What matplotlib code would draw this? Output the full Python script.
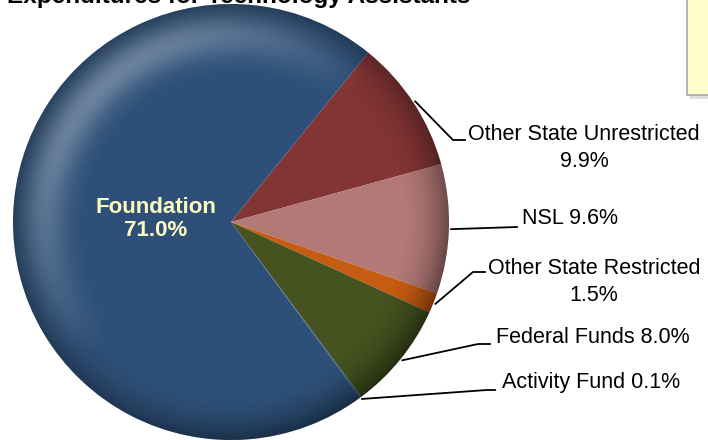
import matplotlib
matplotlib.use("Agg")
import matplotlib.pyplot as plt
import numpy as np
from matplotlib.patches import Circle, Rectangle

# data, clockwise from the top-right edge of the red slice
labels = ["Other State Unrestricted", "NSL", "Other State Restricted",
          "Federal Funds", "Activity Fund", "Foundation"]
pcts = [9.9, 9.6, 1.5, 8.0, 0.1, 71.0]
colors = ["#833434", "#B27976", "#C65B12", "#44531F", "#34557F", "#2E5078"]
title = "Expenditures for Technology Assistants"

plt.rcParams['font.family'] = ["Liberation Sans", "DejaVu Sans"]

W, H = 708, 440
fig = plt.figure(figsize=(W / 100, H / 100), dpi=100)
ax = fig.add_axes([0, 0, 1, 1])

cx, cy, R = 231, H - 222, 218
wedges, _ = ax.pie(pcts, colors=colors, startangle=51, counterclock=False,
                   center=(cx, cy), radius=R, normalize=True,
                   wedgeprops=dict(linewidth=0))
ax.set_xlim(0, W)
ax.set_ylim(0, H)
ax.set_aspect('equal')
ax.axis('off')

# soft 3d shading on the pie
n = 400
gx, gy = np.meshgrid(np.linspace(-1, 1, n), np.linspace(1, -1, n))
rr = np.hypot(gx, gy)
ang = np.arctan2(gy, gx)
dark = np.zeros((n, n, 4))
dark[..., 3] = 0.45 * np.clip((rr - 0.78) / 0.22, 0, 1) ** 2 * (0.6 + 0.4 * np.clip(-np.cos(ang - np.pi * 0.75), 0, 1))
light = np.ones((n, n, 4))
light[..., 3] = 0.3 * np.exp(-((rr - 0.86) / 0.1) ** 2) * np.clip(np.cos(ang - np.pi * 0.75), 0, 1)
for img in (dark, light):
    im = ax.imshow(img, extent=[cx - R, cx + R, cy - R, cy + R], zorder=3, interpolation='bilinear')
    im.set_clip_path(Circle((cx, cy), R, transform=ax.transData))

# foundation label inside
ax.text(156, H - 219, "Foundation\n71.0%", ha='center', va='center', fontsize=16,
        fontweight='bold', color='#FFFFC0', linespacing=1.15, zorder=5)

# outside labels: leader elbow, leader end, text position, alignment
elbows = [(453, 140), (517, 227), (473, 272), (478, 344), (487, 390)]
ends = [(465, 140), (517, 227), (485, 272), (490, 344), (495, 390)]
txt_pos = [(584, 148), (522, 218), (594, 282), (496, 337), (502, 382)]
txt_ha = ['center', 'left', 'center', 'left', 'left']
txt_two_lines = [True, False, True, False, False]

for i in range(5):
    w = wedges[i]
    mid = np.deg2rad((w.theta1 + w.theta2) / 2)
    p0 = (cx + 1.01 * R * np.cos(mid), cy + 1.01 * R * np.sin(mid))
    ex, ey = elbows[i]
    fx, fy = ends[i]
    ax.plot([p0[0], ex, fx], [p0[1], H - ey, H - fy], color='black', lw=1.3, zorder=4)
    sep = "\n" if txt_two_lines[i] else " "
    tx, ty = txt_pos[i]
    ax.text(tx, H - ty, f"{labels[i]}{sep}{pcts[i]:.1f}%", ha=txt_ha[i], va='center',
            multialignment='center', fontsize=15.5, linespacing=1.4)

# title, mostly cut off at the top
ax.text(7, H - 3, title, ha='left', va='baseline', fontsize=17.5, fontweight='bold',
        color='black', clip_on=False)

# sticky note at the top right
ax.add_patch(Rectangle((690, H - 99), 30, 100, facecolor='#C8C8C8', edgecolor='none', alpha=0.6, zorder=1))
ax.add_patch(Rectangle((687, H - 95), 30, 100, facecolor='#FFFFCC', edgecolor='#A8A8A8', lw=1.2, zorder=2))

fig.savefig("out.png", dpi=100)
